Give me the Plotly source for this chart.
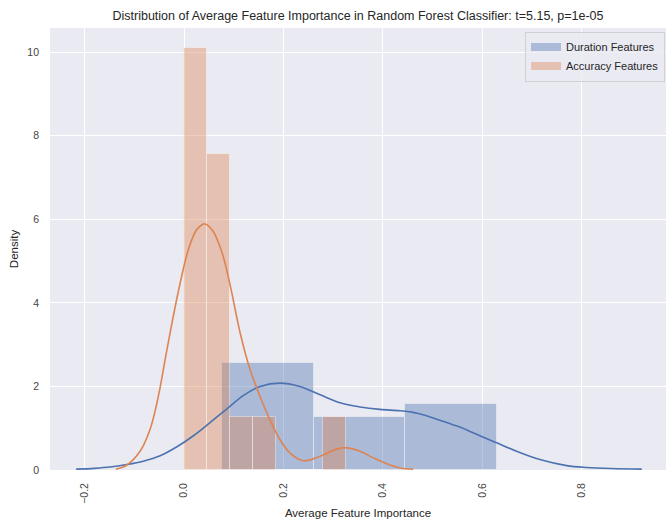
import plotly.graph_objects as go

# ---- data ----
dur_bin_edges = [0.077, 0.261, 0.445, 0.630]
dur_density = [2.55, 1.27, 1.59]

acc_bin_edges = [0.0, 0.0465, 0.093, 0.1395, 0.186, 0.2325, 0.279, 0.3255]
acc_density = [10.10, 7.57, 1.26, 1.26, 0.0, 0.0, 1.26]

dur_kde_x = [-0.217, -0.18, -0.149, -0.115, -0.082, -0.048, -0.015, 0.019, 0.052, 0.086,
             0.119, 0.153, 0.193, 0.233, 0.274, 0.314, 0.354, 0.394, 0.435, 0.461,
             0.488, 0.515, 0.542, 0.569, 0.601, 0.629, 0.669, 0.716, 0.77, 0.81, 0.86, 0.921]
dur_kde_y = [0.02, 0.04, 0.07, 0.13, 0.21, 0.34, 0.55, 0.82, 1.13, 1.46,
             1.78, 2.00, 2.08, 2.00, 1.80, 1.61, 1.51, 1.45, 1.42, 1.38,
             1.30, 1.19, 1.08, 0.96, 0.79, 0.65, 0.45, 0.25, 0.105, 0.06, 0.035, 0.02]

acc_kde_x = [-0.137, -0.125, -0.115, -0.102, -0.092, -0.082, -0.068, -0.058, -0.048, -0.038,
             -0.028, -0.015, -0.005, 0.005, 0.016, 0.026, 0.042, 0.059, 0.069, 0.079,
             0.093, 0.113, 0.133, 0.153, 0.173, 0.193, 0.213, 0.24, 0.274, 0.307,
             0.327, 0.354, 0.381, 0.408, 0.435, 0.461]
acc_kde_y = [0.02, 0.06, 0.12, 0.25, 0.39, 0.58, 0.98, 1.42, 1.98, 2.64,
             3.28, 4.07, 4.62, 5.12, 5.52, 5.76, 5.89, 5.71, 5.45, 5.11,
             4.42, 3.28, 2.40, 1.76, 1.20, 0.73, 0.41, 0.22, 0.33, 0.50,
             0.53, 0.45, 0.29, 0.15, 0.05, 0.02]

series_names = ["Duration Features", "Accuracy Features"]
x_ticks = [-0.2, 0.0, 0.2, 0.4, 0.6, 0.8]
y_ticks = [0, 2, 4, 6, 8, 10]

BLUE = "#4C72B0"
ORANGE = "#DD8452"
BLUE_A = "rgba(76,114,176,0.4)"
ORANGE_A = "rgba(221,132,82,0.4)"


def centers(edges):
    return [(a + b) / 2 for a, b in zip(edges[:-1], edges[1:])]


def widths(edges):
    return [b - a for a, b in zip(edges[:-1], edges[1:])]


fig = go.Figure()

fig.add_trace(go.Bar(x=centers(dur_bin_edges), y=dur_density, width=widths(dur_bin_edges),
                     marker=dict(color=BLUE_A, line=dict(color="rgba(255,255,255,0.4)", width=1)),
                     showlegend=False, hoverinfo="skip"))
fig.add_trace(go.Bar(x=centers(acc_bin_edges), y=acc_density, width=widths(acc_bin_edges),
                     marker=dict(color=ORANGE_A, line=dict(color="rgba(255,255,255,0.4)", width=1)),
                     showlegend=False, hoverinfo="skip"))

fig.add_trace(go.Scatter(x=dur_kde_x, y=dur_kde_y, mode="lines",
                         line=dict(color=BLUE, width=1.6, shape="spline", smoothing=1.0),
                         showlegend=False))
fig.add_trace(go.Scatter(x=acc_kde_x, y=acc_kde_y, mode="lines",
                         line=dict(color=ORANGE, width=1.6, shape="spline", smoothing=1.0),
                         showlegend=False))

# legend patches
fig.add_trace(go.Scatter(x=[None], y=[None], mode="lines", name=series_names[0],
                         line=dict(color=BLUE_A, width=8)))
fig.add_trace(go.Scatter(x=[None], y=[None], mode="lines", name=series_names[1],
                         line=dict(color=ORANGE_A, width=8)))

FONT = "Liberation Sans, Arial, sans-serif"

fig.update_layout(
    width=666, height=520,
    margin=dict(l=50, r=0, t=28, b=50),
    barmode="overlay", bargap=0,
    paper_bgcolor="white", plot_bgcolor="#EAEAF2",
    font=dict(family=FONT, color="#262626", size=11),
    title=dict(text="Distribution of Average Feature Importance in Random Forest Classifier: t=5.15, p=1e-05",
               x=0.5, xref="paper", xanchor="center",
               y=1 - 15.7 / 520, yref="container", yanchor="middle",
               font=dict(size=12.5, color="#262626", family=FONT)),
    legend=dict(x=0.9984, y=0.992, xanchor="right", yanchor="top",
                bgcolor="rgba(234,234,242,0.8)", bordercolor="#cfcfd6", borderwidth=1,
                font=dict(size=11, color="#262626"), tracegroupgap=0),
    xaxis=dict(range=[-0.2696, 0.9698], tickvals=x_ticks, tickformat=".1f", tickangle=-90,
               showgrid=True, gridcolor="white", gridwidth=1.2, zeroline=False,
               showline=False, ticks="", ticklabelstandoff=10,
               tickfont=dict(size=10.5, color="#444"),
               title=dict(text="Average Feature Importance", font=dict(size=11.5, color="#262626"),
                          standoff=6)),
    yaxis=dict(range=[0, 10.58], tickvals=y_ticks, showgrid=True, gridcolor="white",
               gridwidth=1.2, zeroline=False, showline=False, ticks="", ticklabelstandoff=10,
               tickfont=dict(size=10.5, color="#444"),
               title=dict(text="Density", font=dict(size=11.5, color="#262626"), standoff=6)),
)

fig.write_html("out.html")
